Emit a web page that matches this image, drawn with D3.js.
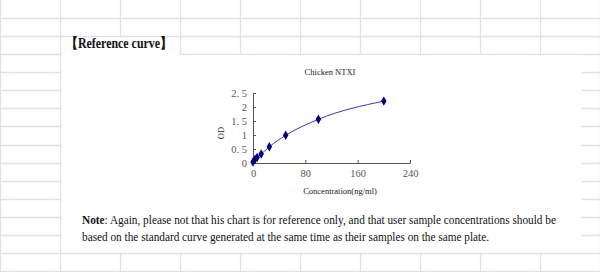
<!DOCTYPE html>
<html>
<head>
<meta charset="utf-8">
<style>
  body { margin: 0; background: #fff; }
  svg { display: block; }
</style>
</head>
<body>
<svg width="600" height="272"></svg>
<script src="https://cdn.jsdelivr.net/npm/d3@7"></script>
<script>
// standard curve points
var conc = [0, 3.12, 6.25, 12.5, 25, 50, 100, 200];
var od = [0.04, 0.13, 0.2, 0.32, 0.58, 0.99, 1.56, 2.21];
var xTicks = [0, 80, 160, 240];
var yTicks = [0, 0.5, 1, 1.5, 2, 2.5];
var yTickLabels = ["0", "0. 5", "1", "1. 5", "2", "2. 5"];

var chartTitle = "Chicken NTXI";
var xTitle = "Concentration(ng/ml)";
var yTitle = "OD";
var heading = "【Reference curve】";
var noteBold = "Note";
var noteLines = [
  ": Again, please not that his chart is for reference only, and that user sample concentrations should be",
  "based on the standard curve generated at the same time as their samples on the same plate."
];

var data = conc.map(function(c, i) { return { c: c, od: od[i] }; });

var svg = d3.select("svg");
var gridColor = "#dfe0e8";

// spreadsheet background grid
var grid = svg.append("g");
var colW = 60, rowH = 18.07;
for (var i = 0; i <= 10; i++) {
  grid.append("line")
    .attr("x1", i * colW + 0.5).attr("x2", i * colW + 0.5)
    .attr("y1", 0).attr("y2", 272)
    .attr("stroke", gridColor).attr("stroke-width", 1.3);
}
for (var j = 1; j <= 15; j++) {
  var yy = Math.round(j * rowH) + 0.5;
  grid.append("line")
    .attr("x1", 0).attr("x2", 600)
    .attr("y1", yy).attr("y2", yy)
    .attr("stroke", gridColor).attr("stroke-width", 1.3);
}
// white pasted areas
svg.append("rect").attr("x", 61.5).attr("y", 37.5).attr("width", 117.5).attr("height", 18).attr("fill", "#fff");
svg.append("rect").attr("x", 61.5).attr("y", 55).attr("width", 520.5).attr("height", 197.5).attr("fill", "#fff");

svg.append("text")
  .attr("x", 66).attr("y", 47.5)
  .attr("font-family", "Liberation Serif, serif")
  .attr("font-weight", "bold")
  .attr("font-size", 14)
  .attr("fill", "#111")
  .attr("textLength", 106)
  .attr("lengthAdjust", "spacingAndGlyphs")
  .text(heading);

// chart
var x = d3.scaleLinear().domain([0, 240]).range([253, 410]);
var y = d3.scaleLinear().domain([0, 2.5]).range([163, 93]);

svg.append("text")
  .attr("x", 330).attr("y", 75)
  .attr("text-anchor", "middle")
  .attr("font-family", "Liberation Serif, serif")
  .attr("font-size", 8.5)
  .attr("fill", "#222")
  .text(chartTitle);

var xAxis = svg.append("g")
  .attr("transform", "translate(0," + y(0) + ")")
  .call(d3.axisBottom(x).tickValues(xTicks).tickSizeInner(-3).tickSizeOuter(0).tickPadding(7));
var yAxis = svg.append("g")
  .attr("transform", "translate(" + x(0) + ",0)")
  .call(d3.axisLeft(y).tickValues(yTicks).tickSizeInner(-3).tickSizeOuter(0).tickPadding(6)
    .tickFormat(function(d, i) { return yTickLabels[i]; }));

[xAxis, yAxis].forEach(function(a) {
  a.select(".domain").attr("stroke", "#555");
  a.selectAll(".tick line").attr("stroke", "#555");
  a.selectAll("text")
    .attr("font-family", "Liberation Serif, serif")
    .attr("font-size", 10.5)
    .attr("fill", "#555");
});

svg.append("text")
  .attr("transform", "translate(224,133) rotate(-90)")
  .attr("text-anchor", "middle")
  .attr("font-family", "Liberation Serif, serif")
  .attr("font-size", 8.5)
  .attr("fill", "#222")
  .text(yTitle);

svg.append("text")
  .attr("x", 340).attr("y", 194)
  .attr("text-anchor", "middle")
  .attr("font-family", "Liberation Serif, serif")
  .attr("font-size", 8.5)
  .attr("fill", "#222")
  .text(xTitle);

var line = d3.line()
  .x(function(d) { return x(d.c); })
  .y(function(d) { return y(d.od); })
  .curve(d3.curveMonotoneX);

svg.append("path")
  .datum(data)
  .attr("d", line)
  .attr("fill", "none")
  .attr("stroke", "#3a3ab0")
  .attr("stroke-width", 1);

svg.selectAll(".pt")
  .data(data)
  .enter().append("path")
  .attr("class", "pt")
  .attr("transform", function(d) { return "translate(" + x(d.c) + "," + y(d.od) + ")"; })
  .attr("d", d3.symbol().type(d3.symbolDiamond).size(26))
  .attr("fill", "#00007a");

// note below the chart
var note = svg.append("g")
  .attr("font-family", "Liberation Serif, serif")
  .attr("font-size", 12)
  .attr("fill", "#111");
var t1 = note.append("text").attr("x", 82).attr("y", 224)
  .attr("textLength", 474).attr("lengthAdjust", "spacingAndGlyphs");
t1.append("tspan").attr("font-weight", "bold").text(noteBold);
t1.append("tspan").text(noteLines[0]);
note.append("text").attr("x", 82).attr("y", 240.5)
  .attr("textLength", 407).attr("lengthAdjust", "spacingAndGlyphs")
  .text(noteLines[1]);
</script>
</body>
</html>
